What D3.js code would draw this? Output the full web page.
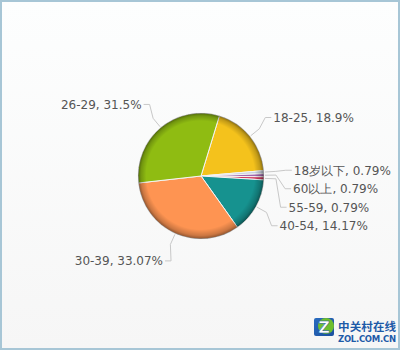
<!DOCTYPE html>
<html><head><meta charset="utf-8">
<script src="https://cdn.jsdelivr.net/npm/d3@7"></script>
<style>body{margin:0;background:#fff}svg{display:block}</style>
</head><body>
<script>
// Data (clockwise order as drawn)
const categories = ["18-25", "18岁以下", "60以上", "55-59", "40-54", "30-39", "26-29"];
const values = [18.9, 0.79, 0.79, 0.79, 14.17, 33.07, 31.5];
const colors = ["#f4c21c", "#c9d2e2", "#a066ad", "#d2395f", "#16928f", "#fe9452", "#8fbc12"];

const W = 400, H = 350;
const cx = 201, cy = 176, r = 63, R = 93;
const startDeg = 17;

const svg = d3.select("body").append("svg").attr("width", W).attr("height", H);
const defs = svg.append("defs");

const bg = defs.append("linearGradient").attr("id", "bg").attr("x1", 0).attr("y1", 0).attr("x2", 0).attr("y2", 1);
bg.append("stop").attr("offset", "0%").attr("stop-color", "#fdfefe");
bg.append("stop").attr("offset", "100%").attr("stop-color", "#f6f6f6");
svg.append("rect").attr("x", 1).attr("y", 1).attr("width", W - 2).attr("height", H - 2)
  .attr("fill", "url(#bg)").attr("stroke", "#a7c6d6").attr("stroke-width", 2);

const shade = defs.append("radialGradient").attr("id", "shade")
  .attr("gradientUnits", "userSpaceOnUse").attr("cx", cx).attr("cy", cy).attr("r", r)
  .attr("fx", cx - 4).attr("fy", cy - 6);
shade.append("stop").attr("offset", "0%").attr("stop-color", "#000").attr("stop-opacity", 0);
shade.append("stop").attr("offset", "86%").attr("stop-color", "#000").attr("stop-opacity", 0);
shade.append("stop").attr("offset", "95%").attr("stop-color", "#000").attr("stop-opacity", 0.2);
shade.append("stop").attr("offset", "100%").attr("stop-color", "#000").attr("stop-opacity", 0.45);

const data = categories.map((c, i) => ({cat: c, val: values[i], color: colors[i]}));
const start = startDeg * Math.PI / 180;
const pie = d3.pie().sort(null).value(d => d.val).startAngle(start).endAngle(start + 2 * Math.PI);
const arcs = pie(data);
const arc = d3.arc().innerRadius(0).outerRadius(r);

const g = svg.append("g").attr("transform", `translate(${cx},${cy})`);
g.selectAll("path.slice").data(arcs).enter().append("path")
  .attr("class", "slice").attr("d", arc).attr("fill", d => d.data.color)
  .attr("stroke", "#f4f4f4").attr("stroke-width", 1).attr("stroke-linejoin", "round");
svg.append("circle").attr("cx", cx).attr("cy", cy).attr("r", r).attr("fill", "url(#shade)");

// label layout
const labs = arcs.map(a => {
  const m = (a.startAngle + a.endAngle) / 2;
  return {a, m, right: Math.sin(m) >= 0, y: cy - R * Math.cos(m), text: `${a.data.cat}, ${a.data.val}%`};
});
const spacing = 18.5;
[true, false].forEach(side => {
  const s = labs.filter(l => l.right === side).sort((p, q) => p.y - q.y);
  for (let i = 1; i < s.length; i++) if (s[i].y < s[i - 1].y + spacing) s[i].y = s[i - 1].y + spacing;
});
labs.forEach(l => {
  const dy = l.y - cy;
  const dx = Math.sqrt(Math.max(0, R * R - dy * dy));
  l.x = l.right ? cx + dx : cx - dx;
});

const lg = svg.append("g");
labs.forEach(l => {
  const sx = cx + Math.sin(l.m) * (r + 1), sy = cy - Math.cos(l.m) * (r + 1);
  const bx = cx + Math.sin(l.m) * (r + 12), by = cy - Math.cos(l.m) * (r + 12);
  const dir = l.right ? 1 : -1;
  const ex = l.x - dir * 8, fx = l.x - dir * 2;
  lg.append("path").attr("d", `M${sx},${sy}L${bx},${by}L${ex},${l.y}L${fx},${l.y}`)
    .attr("fill", "none").attr("stroke", "#c8c8c8").attr("stroke-width", 1);
  lg.append("text").attr("x", l.x).attr("y", l.y).attr("dy", "0.36em")
    .attr("text-anchor", l.right ? "start" : "end")
    .attr("font-family", "DejaVu Sans, Verdana, sans-serif").attr("font-size", 12)
    .attr("fill", "#555").text(l.text);
});

// logo
const lgo = svg.append("g");
const lgGrad = defs.append("linearGradient").attr("id", "logo").attr("x1", 0).attr("y1", 0).attr("x2", 1).attr("y2", 1);
lgGrad.append("stop").attr("offset", "0%").attr("stop-color", "#2a6cc0");
lgGrad.append("stop").attr("offset", "100%").attr("stop-color", "#1a4f9e");
lgo.append("rect").attr("x", 314).attr("y", 318).attr("width", 20).attr("height", 18).attr("rx", 2).attr("fill", "url(#logo)");
lgo.append("circle").attr("cx", 326).attr("cy", 326).attr("r", 8).attr("fill", "#6fbf2e");
lgo.append("text").attr("x", 324).attr("y", 333).attr("text-anchor", "middle")
  .attr("font-family", "DejaVu Sans, sans-serif").attr("font-weight", "bold").attr("font-size", 16)
  .attr("fill", "#fff").attr("stroke", "#1a4f9e").attr("stroke-width", 0.5).text("Z");
lgo.append("text").attr("x", 338).attr("y", 331).attr("textLength", 58)
  .attr("font-family", "Noto Sans CJK SC, sans-serif").attr("font-weight", "bold").attr("font-size", 11.5)
  .attr("fill", "#1d5aa8").text("中关村在线");
lgo.append("text").attr("x", 338).attr("y", 341.5).attr("textLength", 58)
  .attr("font-family", "DejaVu Sans, sans-serif").attr("font-weight", "bold").attr("font-size", 8.5)
  .attr("fill", "#1d5aa8").text("ZOL.COM.CN");
</script>
</body></html>
